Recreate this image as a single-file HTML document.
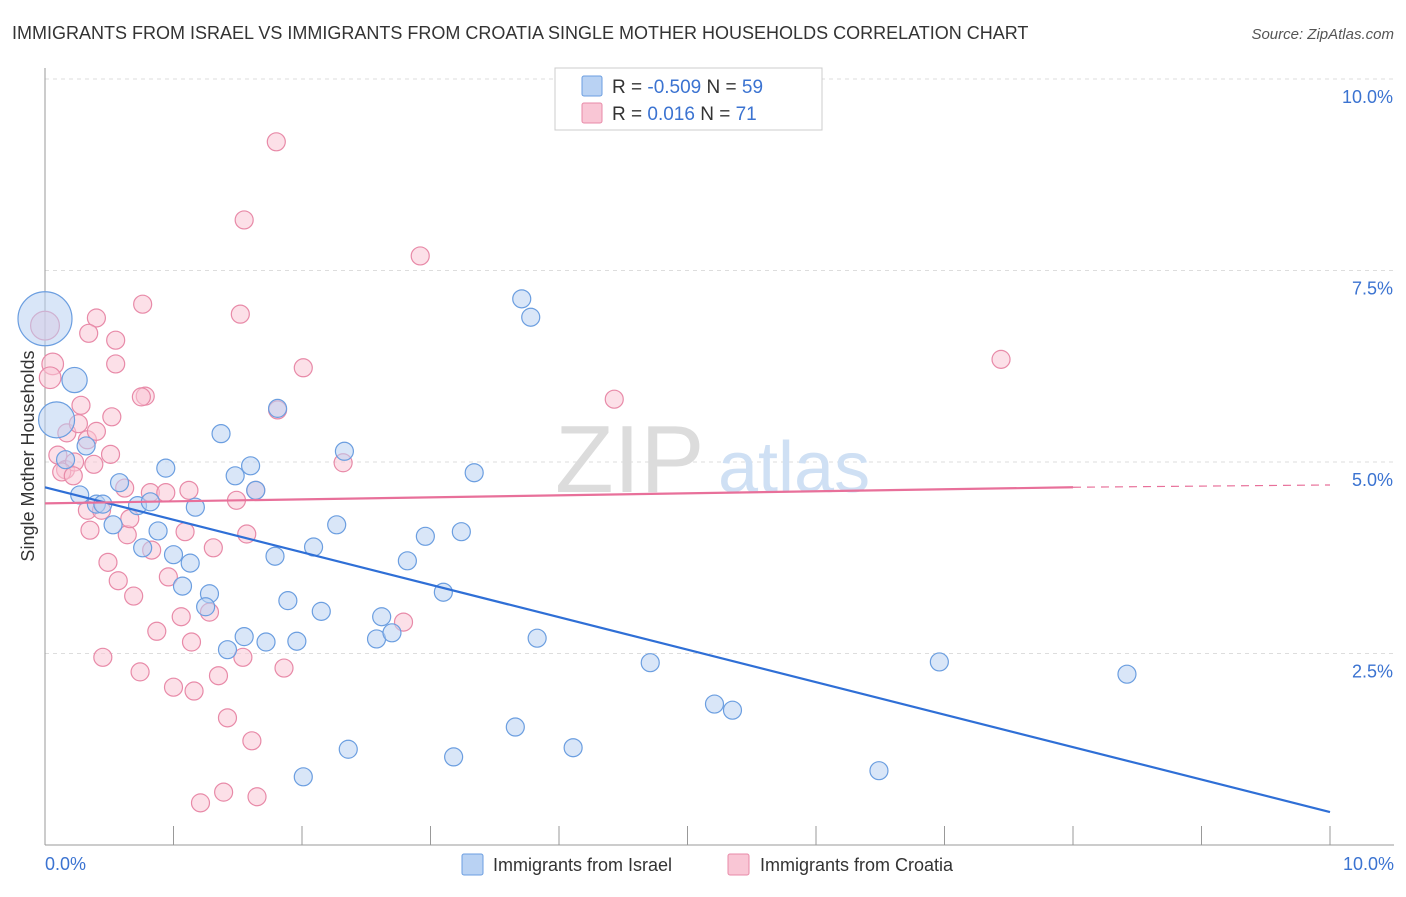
<!DOCTYPE html>
<html><head><meta charset="utf-8"><style>
body{margin:0;background:#fff;font-family:"Liberation Sans",sans-serif;}
svg text{font-family:"Liberation Sans",sans-serif;}
</style></head><body>
<svg id="c" width="1406" height="892">
<text x="12" y="39" font-size="18" fill="#333">IMMIGRANTS FROM ISRAEL VS IMMIGRANTS FROM CROATIA SINGLE MOTHER HOUSEHOLDS CORRELATION CHART</text>
<text x="1394" y="39" font-size="15" fill="#555" font-style="italic" text-anchor="end">Source: ZipAtlas.com</text>
<g id="grid"></g>
<text x="555" y="492" font-size="96" fill="#dcdcdc" font-family="Liberation Serif">ZIP</text>
<text x="718" y="492" font-size="72" fill="#cfe0f4">atlas</text>
<line x1="45" y1="68" x2="45" y2="845" stroke="#999"/>
<line x1="45" y1="845" x2="1394" y2="845" stroke="#999"/>
<g id="xt"></g>
<g id="yl"></g>
<text x="45" y="870" font-size="18" fill="#3b73d1">0.0%</text>
<text x="1394" y="870" font-size="18" fill="#3b73d1" text-anchor="end">10.0%</text>
<text transform="translate(34,456) rotate(-90)" font-size="18" fill="#333" text-anchor="middle">Single Mother Households</text>
<g id="pts"></g>
<g id="trend"></g>
<g>
<rect x="555" y="68" width="267" height="62" fill="#fff" stroke="#ccc"/>
<rect x="582" y="76" width="20" height="20" fill="#b9d2f3" stroke="#6b9ee0" rx="2"/>
<rect x="582" y="103" width="20" height="20" fill="#f9c6d5" stroke="#e88aa8" rx="2"/>
<text x="612" y="93" font-size="19" fill="#333">R = <tspan fill="#3b73d1">-0.509</tspan>   N = <tspan fill="#3b73d1">59</tspan></text>
<text x="612" y="120" font-size="19" fill="#333">R =   <tspan fill="#3b73d1">0.016</tspan>   N =  <tspan fill="#3b73d1">71</tspan></text>
</g>
<g>
<rect x="462" y="854" width="21" height="21" fill="#b9d2f3" stroke="#6b9ee0" rx="2"/>
<text x="493" y="871" font-size="18" fill="#333">Immigrants from Israel</text></g>
<g>
<rect x="728" y="854" width="21" height="21" fill="#f9c6d5" stroke="#e88aa8" rx="2"/>
<text x="760" y="871" font-size="18" fill="#333">Immigrants from Croatia</text></g>
</svg>
<script>
const israelX=[0,0.09,0.23,0.32,0.16,0.27,0.40,0.45,0.53,0.58,0.72,0.82,0.76,0.88,0.94,1.00,1.07,1.13,1.17,1.28,1.25,1.37,1.42,1.48,1.55,1.60,1.64,1.72,1.79,1.81,1.89,1.96,2.01,2.09,2.15,2.27,2.33,2.36,2.58,2.62,2.70,2.82,2.96,3.10,3.18,3.24,3.34,3.66,3.71,3.78,3.83,4.11,4.71,5.21,5.35,6.49,6.96,8.42];
const israelY=[6.87,5.55,6.07,5.21,5.03,4.57,4.45,4.45,4.18,4.73,4.43,4.48,3.88,4.10,4.92,3.79,3.38,3.68,4.41,3.28,3.11,5.37,2.55,4.82,2.72,4.95,4.63,2.65,3.77,5.70,3.19,2.66,0.89,3.89,3.05,4.18,5.14,1.25,2.69,2.98,2.77,3.71,4.03,3.30,1.15,4.09,4.86,1.54,7.13,6.89,2.70,1.27,2.38,1.84,1.76,0.97,2.39,2.23];
const israelW=[3,2,1.4];
const croatiaX=[0,0.06,0.04,0.17,0.10,0.16,0.23,0.13,0.22,0.28,0.26,0.33,0.40,0.38,0.33,0.35,0.44,0.40,0.34,0.55,0.55,0.51,0.52,0.49,0.57,0.62,0.64,0.66,0.69,0.74,0.76,0.78,0.75,0.82,0.83,0.87,0.94,0.96,1.00,1.06,1.09,1.12,1.14,1.16,1.21,1.28,1.31,1.35,1.39,1.42,1.49,1.52,1.54,1.55,1.57,1.61,1.64,1.65,1.80,1.81,1.86,2.01,2.32,2.79,2.92,4.43,7.44,0.45];
const croatiaY=[6.78,6.28,6.10,5.38,5.09,4.90,5.00,4.87,4.82,5.74,5.50,5.29,5.40,4.97,4.37,4.11,4.37,6.88,6.68,6.59,6.28,5.10,5.59,3.69,3.45,4.66,4.05,4.26,3.25,2.26,7.06,5.86,5.85,4.60,3.85,2.79,4.60,3.50,2.06,2.98,4.09,4.63,2.65,2.01,0.55,3.04,3.88,2.21,0.69,1.66,4.50,6.93,2.45,8.16,4.06,1.36,4.63,0.63,9.18,5.68,2.31,6.23,4.99,2.91,7.69,5.82,6.34,2.45];
const croatiaW=[1.6,1.2,1.2];
const israelTrend=[4.67,0.43];
const croatiaTrend=[4.46,4.67,4.70];
const yTicks=[2.5,5.0,7.5,10.0];
const yTickLabels=["2.5%","5.0%","7.5%","10.0%"];
const xTicks=[0,1,2,3,4,5,6,7,8,9,10];
const NS="http://www.w3.org/2000/svg";
const sx=v=>45+v*128.5, sy=v=>845-v*76.6;
function mk(t,a,p){const e=document.createElementNS(NS,t);for(const k in a)e.setAttribute(k,a[k]);p.appendChild(e);return e;}
const grid=document.getElementById('grid'),yl=document.getElementById('yl'),xt=document.getElementById('xt');
yTicks.forEach((v,i)=>{
const g=mk('line',{x1:45,x2:1394,y1:sy(v),y2:sy(v),stroke:'#ddd','stroke-dasharray':'4,4'},grid);


const t=mk('text',{x:1393,y:sy(v)+24,'font-size':18,fill:'#3b73d1','text-anchor':'end'},yl);
t.textContent=yTickLabels[i];


});
xTicks.forEach(v=>{
const l=mk('line',{x1:sx(v),x2:sx(v),y1:826,y2:845,stroke:'#999'},xt);


});
const pts=document.getElementById('pts');
function series(X,Y,W,fill,stroke,name){X.forEach((x,i)=>{
const c=mk('circle',{cx:sx(x),cy:sy(Y[i]),r:9*(W[i]||1),fill:fill,'fill-opacity':0.55,stroke:stroke,'stroke-width':1.2},pts);


});}
series(croatiaX,croatiaY,croatiaW,'#f9c6d5','#e88aa8','croatia-point');
series(israelX,israelY,israelW,'#b9d2f3','#6b9ee0','israel-point');
const tr=document.getElementById('trend');
const b=mk('line',{x1:sx(0),y1:sy(israelTrend[0]),x2:sx(10),y2:sy(israelTrend[1]),stroke:'#2f6fd6','stroke-width':2.2},tr);


const p=mk('line',{x1:sx(0),y1:sy(croatiaTrend[0]),x2:sx(8),y2:sy(croatiaTrend[1]),stroke:'#e8709a','stroke-width':2.2},tr);


const pd=mk('line',{x1:sx(8),y1:sy(croatiaTrend[1]),x2:sx(10),y2:sy(croatiaTrend[2]),stroke:'#e8709a','stroke-width':1.2,'stroke-dasharray':'8,6'},tr);


</script>
</body></html>
